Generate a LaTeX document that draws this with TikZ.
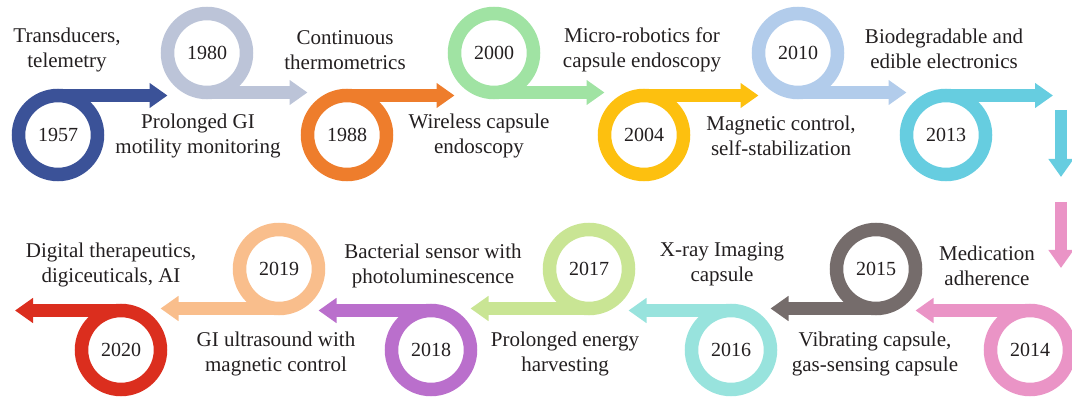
\documentclass[tikz,border=0pt]{standalone}
\usepackage{fontspec}
\setmainfont{Liberation Serif}
\usetikzlibrary{arrows.meta}
\definecolor{c1957}{HTML}{3B5298}
\definecolor{c1980}{HTML}{BCC4D8}
\definecolor{c1988}{HTML}{EE7D2C}
\definecolor{c2000}{HTML}{A0E3A3}
\definecolor{c2004}{HTML}{FDC00F}
\definecolor{c2010}{HTML}{B2CCEB}
\definecolor{c2013}{HTML}{66CDE0}
\definecolor{c2014}{HTML}{EA94C6}
\definecolor{c2015}{HTML}{756C6B}
\definecolor{c2016}{HTML}{98E3DD}
\definecolor{c2017}{HTML}{C9E594}
\definecolor{c2018}{HTML}{BA6FCC}
\definecolor{c2019}{HTML}{F9BE8C}
\definecolor{c2020}{HTML}{DB2E1E}
\definecolor{txtgray}{HTML}{231F20}
\begin{document}
\begin{tikzpicture}[x=1pt,y=-1pt,
	ring/.style={circle,draw=#1,line width=13.5pt,minimum size=79pt,inner sep=0pt,outer sep=0pt,text=\TXTCOLOR,font=\fontsize{20}{24}\selectfont},
	bar/.style={draw=#1,line width=13.5pt,-{Triangle[width=24pt,length=18pt]}},
	note/.style={align=center,text=\TXTCOLOR,font=\fontsize{21}{25}\selectfont}]

\def\TXTCOLOR{txtgray}
	\useasboundingbox (0,0) rectangle (1072,398);
	\node[ring=c1957] (y1957) at (58,135) {1957};
	\node[ring=c1980] (y1980) at (207,53) {1980};
	\node[ring=c1988] (y1988) at (347,135) {1988};
	\node[ring=c2000] (y2000) at (494,53) {2000};
	\node[ring=c2004] (y2004) at (644,135) {2004};
	\node[ring=c2010] (y2010) at (798,53) {2010};
	\node[ring=c2013] (y2013) at (946,135) {2013};
	\node[ring=c2014] (y2014) at (1030,350) {2014};
	\node[ring=c2015] (y2015) at (876,269) {2015};
	\node[ring=c2016] (y2016) at (731,350) {2016};
	\node[ring=c2017] (y2017) at (589,269) {2017};
	\node[ring=c2018] (y2018) at (431,350) {2018};
	\node[ring=c2019] (y2019) at (279,269) {2019};
	\node[ring=c2020] (y2020) at (121,350) {2020};
	\coordinate (endtop) at (1053,95);
	\coordinate (endbot) at (15,310);
	\coordinate (down1) at (1061,110);
	\coordinate (down2) at (1061,177);
	\coordinate (down3) at (1061,202);
	\coordinate (down4) at (1061,268);
	\draw[bar=c1957] (y1957.north) -- (y1957.north -| y1980.west);
	\draw[bar=c1980] (y1980.south) -- (y1980.south -| y1988.west);
	\draw[bar=c1988] (y1988.north) -- (y1988.north -| y2000.west);
	\draw[bar=c2000] (y2000.south) -- (y2000.south -| y2004.west);
	\draw[bar=c2004] (y2004.north) -- (y2004.north -| y2010.west);
	\draw[bar=c2010] (y2010.south) -- (y2010.south -| y2013.west);
	\draw[bar=c2013] (y2013.north) -- (y2013.north -| endtop);
	\draw[bar=c2013,line width=12pt] (down1) -- (down2);
	\draw[bar=c2014,line width=12pt] (down3) -- (down4);
	\draw[bar=c2014] (y2014.north) -- (y2014.north -| y2015.east);
	\draw[bar=c2015] (y2015.south) -- (y2015.south -| y2016.east);
	\draw[bar=c2016] (y2016.north) -- (y2016.north -| y2017.east);
	\draw[bar=c2017] (y2017.south) -- (y2017.south -| y2018.east);
	\draw[bar=c2018] (y2018.north) -- (y2018.north -| y2019.east);
	\draw[bar=c2019] (y2019.south) -- (y2019.south -| y2020.east);
	\draw[bar=c2020] (y2020.north) -- (y2020.north -| endbot);
	\node[note] (l1957) at (67,50) {Transducers,\\telemetry};
	\node[note] (l1980) at (198,136) {Prolonged GI\\motility monitoring};
	\node[note] (l1988) at (345,50) {Continuous\\thermometrics};
	\node[note] (l2000) at (479,136) {Wireless capsule\\endoscopy};
	\node[note] (l2004) at (642,50) {Micro-robotics for\\capsule endoscopy};
	\node[note] (l2010) at (781,136) {Magnetic control,\\self-stabilization};
	\node[note] (l2013) at (944,49) {Biodegradable and\\edible electronics};
	\node[note] (l2014) at (987,266) {Medication\\adherence};
	\node[note] (l2015) at (875,354) {Vibrating capsule,\\gas-sensing capsule};
	\node[note] (l2016) at (722,264) {X-ray Imaging\\capsule};
	\node[note] (l2017) at (565,354) {Prolonged energy\\harvesting};
	\node[note] (l2018) at (433,266) {Bacterial sensor with\\photoluminescence};
	\node[note] (l2019) at (276,354) {GI ultrasound with\\magnetic control};
	\node[note] (l2020) at (111,265) {Digital therapeutics,\\digiceuticals, AI};

\end{tikzpicture}
\end{document}
